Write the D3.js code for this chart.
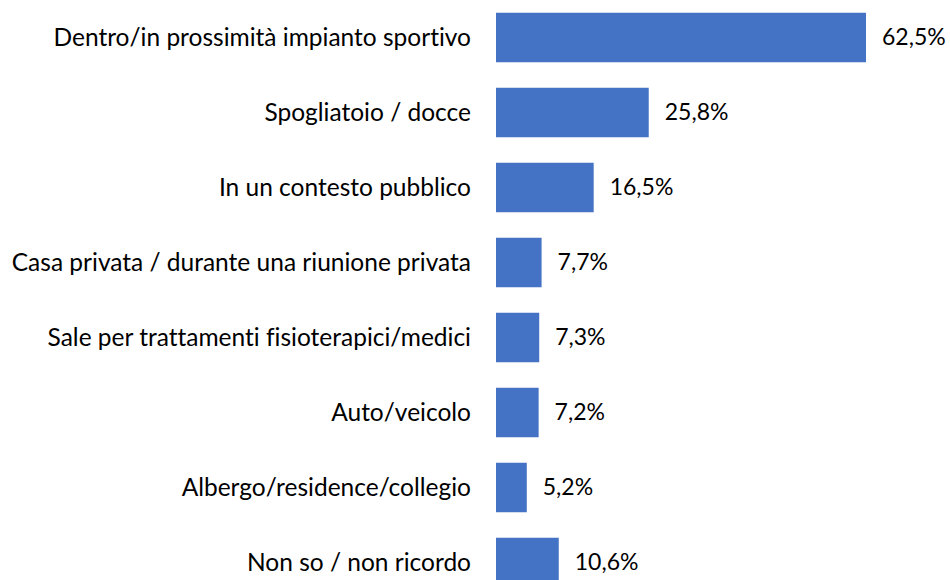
<!DOCTYPE html>
<html>
<head>
<meta charset="utf-8">
<script src="https://cdn.jsdelivr.net/npm/d3@7"></script>
<style>
  body { margin: 0; background: #fff; }
  svg text { font-family: Lato, "Noto Sans", sans-serif; fill: #000; font-variant-ligatures: none; }
</style>
</head>
<body>
<svg id="chart"></svg>
<script>
const categories = [
  "Dentro/in prossimità impianto sportivo",
  "Spogliatoio / docce",
  "In un contesto pubblico",
  "Casa privata / durante una riunione privata",
  "Sale per trattamenti fisioterapici/medici",
  "Auto/veicolo",
  "Albergo/residence/collegio",
  "Non so / non ricordo"
];
const values = [62.5, 25.8, 16.5, 7.7, 7.3, 7.2, 5.2, 10.6];

const width = 950, height = 580;
const margin = { left: 496, top: 0 };

const svg = d3.select("#chart")
  .attr("width", width)
  .attr("height", height);

const x = d3.scaleLinear()
  .domain([0, 70])
  .range([margin.left, margin.left + 70 * 5.92]);

const y = d3.scaleBand()
  .domain(categories)
  .range([margin.top, margin.top + 600])
  .paddingInner(0.34)
  .paddingOuter(0.17);

const it = d3.formatLocale({ decimal: ",", thousands: ".", grouping: [3], currency: ["€", ""] });
const fmt = d => it.format(".1f")(d) + "%";

const data = categories.map((c, i) => ({ cat: c, val: values[i] }));

svg.selectAll(".bar")
  .data(data)
  .enter()
  .append("rect")
  .attr("class", "bar")
  .attr("x", x(0))
  .attr("y", d => y(d.cat))
  .attr("width", d => x(d.val) - x(0))
  .attr("height", y.bandwidth())
  .attr("fill", "#4472C4");

svg.selectAll(".cat")
  .data(data)
  .enter()
  .append("text")
  .attr("class", "cat")
  .attr("x", x(0) - 25)
  .attr("y", d => y(d.cat) + y.bandwidth() / 2)
  .attr("dy", "0.33em")
  .attr("text-anchor", "end")
  .style("font-size", "24.5px")
  .text(d => d.cat);

svg.selectAll(".label")
  .data(data)
  .enter()
  .append("text")
  .attr("class", "label")
  .attr("x", d => x(d.val) + 16)
  .attr("y", d => y(d.cat) + y.bandwidth() / 2)
  .attr("dy", "0.33em")
  .style("font-size", "23px")
  .text(d => fmt(d.val));
</script>
</body>
</html>
